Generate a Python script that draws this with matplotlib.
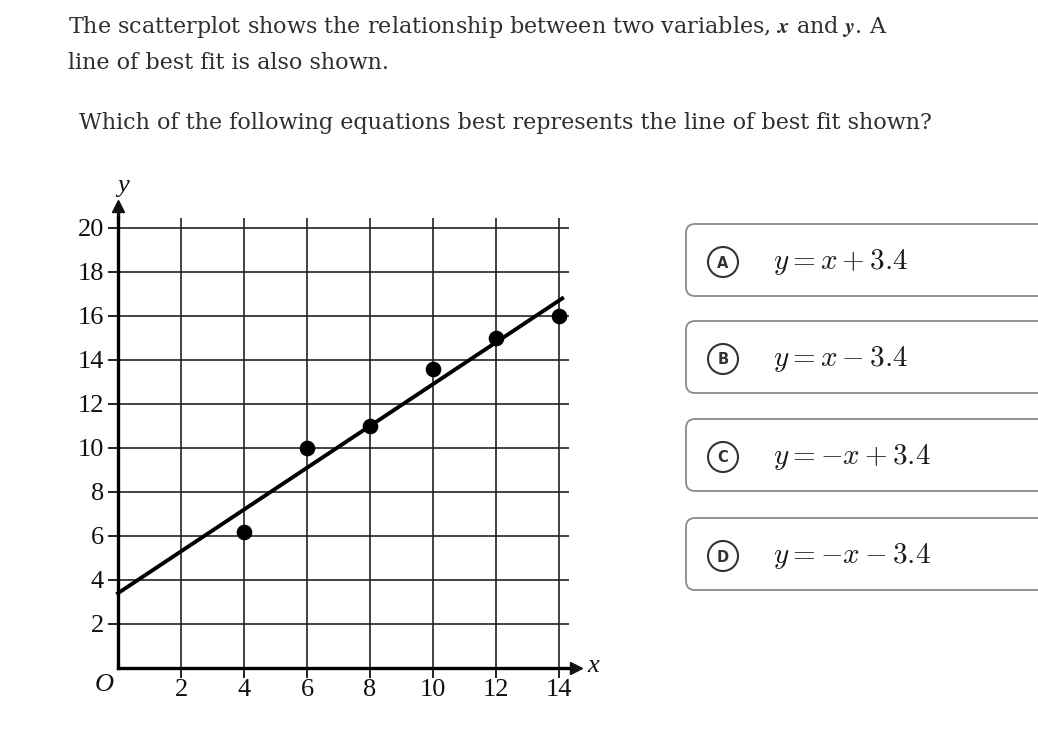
import numpy as np
import matplotlib
matplotlib.use("Agg")
import matplotlib.pyplot as plt
from matplotlib.patches import FancyBboxPatch, Circle

plt.rcParams['mathtext.fontset'] = 'cm'

# ---------------------------------------------------------------------
#  Dados
# ---------------------------------------------------------------------

x_pontos = [4, 6, 8, 10, 12, 14]
y_pontos = [6.2, 10, 11, 13.6, 15, 16]

# reta de melhor ajuste: y = a*x + b
reta_a = 0.95
reta_b = 3.4
reta_x = [0, 14.1]

x_ticks = [2, 4, 6, 8, 10, 12, 14]
y_ticks = [2, 4, 6, 8, 10, 12, 14, 16, 18, 20]

letras = ['A', 'B', 'C', 'D']
equacoes = [r'$y = x + \mathbf{3.4}$', r'$y = x - \mathbf{3.4}$',
            r'$y = -x + \mathbf{3.4}$', r'$y = -x - \mathbf{3.4}$']

linha1 = r'The scatterplot shows the relationship between two variables, $\mathbfit{x}$ and $\mathbfit{y}$. A'
linha2 = 'line of best fit is also shown.'
pergunta = 'Which of the following equations best represents the line of best fit shown?'

W, H = 1038, 731
fig = plt.figure(figsize=(W / 100, H / 100), dpi=100)

# ---------------------------------------------------------------------
#  Grafico de dispersao
# ---------------------------------------------------------------------

ax = fig.add_axes([118 / W, 1 - 668 / H, 450.5 / W, 450 / H])
ax.set_xlim(0, 14.3)
ax.set_ylim(0, 20.45)

for s in ['top', 'right']:
    ax.spines[s].set_visible(False)
for s in ['left', 'bottom']:
    ax.spines[s].set_linewidth(2.4)
    ax.spines[s].set_zorder(5)

ax.set_xticks(x_ticks)
ax.set_yticks(y_ticks)
ax.set_xticklabels([str(t) for t in x_ticks], fontfamily='Liberation Serif', fontsize=19)
ax.set_yticklabels([str(t) for t in y_ticks], fontfamily='Liberation Serif', fontsize=19)
ax.tick_params(direction='out', length=7, width=1.3, color='#111', labelcolor='#111')
ax.tick_params(axis='y', pad=3)
ax.tick_params(axis='x', pad=1)
ax.grid(True, color='#222', linewidth=1.2)
ax.set_axisbelow(True)

# setas dos eixos
ax.plot([0, 0], [20.45, 21.0], color='#111', lw=2.4, clip_on=False, solid_capstyle='butt')
ax.plot([0], [21.0], marker='^', color='#111', markersize=8, clip_on=False)
ax.plot([14.3, 14.55], [0, 0], color='#111', lw=2.4, clip_on=False, solid_capstyle='butt')
ax.plot([14.55], [0], marker='>', color='#111', markersize=8, clip_on=False)

ax.text(0.15, 21.9, 'y', fontfamily='Liberation Serif', style='italic', fontsize=19,
        ha='center', va='center', color='#111')
ax.text(15.1, 0.1, 'x', fontfamily='Liberation Serif', style='italic', fontsize=19,
        ha='center', va='center', color='#111')
ax.text(-0.45, -0.75, 'O', fontfamily='Liberation Serif', style='italic', fontsize=19,
        ha='center', va='center', color='#111')

# reta e pontos
reta_y = [reta_a * v + reta_b for v in reta_x]
ax.plot(reta_x, reta_y, color='black', lw=2.8, clip_on=False, zorder=4)
ax.scatter(x_pontos, y_pontos, s=105, color='black', zorder=6, clip_on=False)

# ---------------------------------------------------------------------
#  Texto e alternativas
# ---------------------------------------------------------------------

ov = fig.add_axes([0, 0, 1, 1])
ov.set_xlim(0, W)
ov.set_ylim(H, 0)
ov.axis('off')
ov.patch.set_alpha(0)

cor_texto = '#2e2e2e'
ov.text(68, 27, linha1, fontfamily='DejaVu Serif', fontsize=16, color=cor_texto, va='center')
ov.text(68, 63, linha2, fontfamily='DejaVu Serif', fontsize=16, color=cor_texto, va='center')
ov.text(79, 123, pergunta, fontfamily='DejaVu Serif', fontsize=16, color=cor_texto, va='center')

topos = [224, 321, 419, 518]
alt = 72
for topo, letra, eq in zip(topos, letras, equacoes):
    caixa = FancyBboxPatch((686, topo), 380, alt, boxstyle='round,pad=0,rounding_size=9',
                           facecolor='white', edgecolor='#8a8a8a', lw=1.3, clip_on=False)
    ov.add_patch(caixa)
    cy = topo + alt / 2 + 2
    ov.add_patch(Circle((723, cy), 15, facecolor='white', edgecolor='#333', lw=1.5))
    ov.text(723, cy + 1, letra, fontfamily='DejaVu Sans', fontsize=10.5, fontweight='bold',
            color='#333', ha='center', va='center')
    ov.text(773, cy, eq, fontsize=21, color='#1a1a1a', ha='left', va='center')

fig.savefig('out.png', dpi=100)
